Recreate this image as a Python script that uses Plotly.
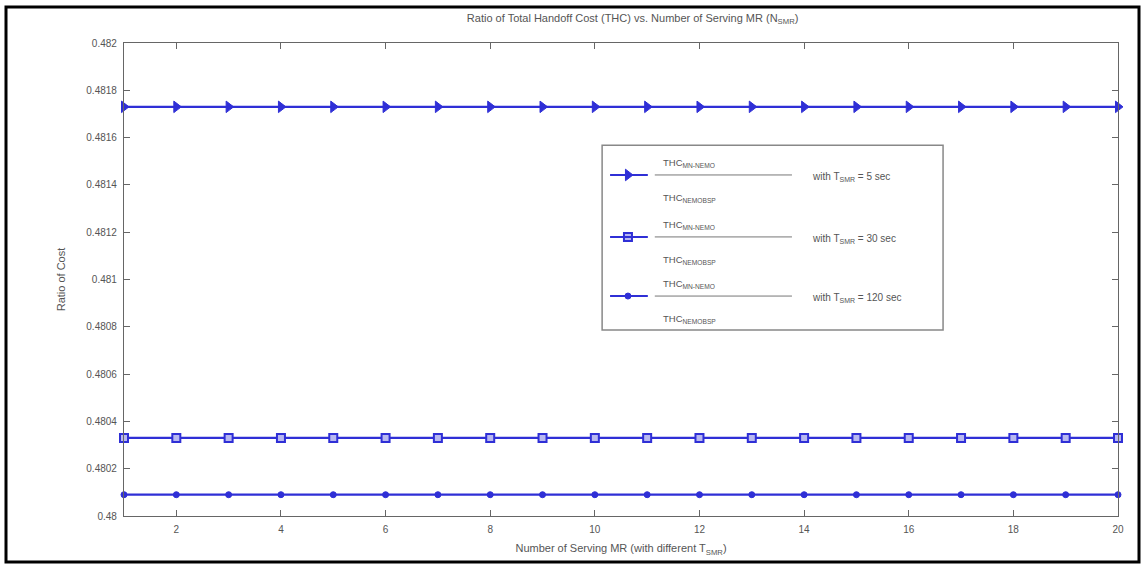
import plotly.graph_objects as go

# Number of serving MRs
n_smr = list(range(1, 21))

# Ratio THC(MN-NEMO) / THC(NEMO-BSP) for different T_SMR
ratio_t5 = [0.48173] * 20
ratio_t30 = [0.48033] * 20
ratio_t120 = [0.48009] * 20

y_ticks = [0.48, 0.4802, 0.4804, 0.4806, 0.4808, 0.481, 0.4812, 0.4814, 0.4816, 0.4818, 0.482]
y_tick_text = ["0.48", "0.4802", "0.4804", "0.4806", "0.4808", "0.481",
               "0.4812", "0.4814", "0.4816", "0.4818", "0.482"]
x_ticks = [2, 4, 6, 8, 10, 12, 14, 16, 18, 20]

series_labels = ["with T<sub>SMR</sub> = 5 sec", "with T<sub>SMR</sub> = 30 sec",
                 "with T<sub>SMR</sub> = 120 sec"]

BLUE = "#2f2fd6"
GREY = "#555555"
FONT = "Liberation Sans, Arial, sans-serif"

styles = [
    dict(symbol="triangle-right", size=10, color=BLUE, line=dict(color=BLUE, width=1)),
    dict(symbol="square", size=8, color="#b8b8f0", line=dict(color=BLUE, width=2)),
    dict(symbol="circle", size=6, color=BLUE, line=dict(color=BLUE, width=1)),
]

fig = go.Figure()
for ys, st in zip([ratio_t5, ratio_t30, ratio_t120], styles):
    fig.add_trace(go.Scatter(
        x=n_smr, y=ys, mode="lines+markers",
        line=dict(color=BLUE, width=2.2),
        marker=st, showlegend=False, cliponaxis=False,
    ))

# Hand-built legend box with fraction-style entries
L = dict(x0=0.481, x1=0.824, y0=0.393, y1=0.784)
row_y = [0.721, 0.590, 0.465]
shapes = [
    dict(type="rect", xref="paper", yref="paper", x0=L["x0"], x1=L["x1"],
         y0=L["y0"], y1=L["y1"], line=dict(color="#888888", width=1.5),
         fillcolor="white", layer="below"),
    # outer frame of the figure
    dict(type="rect", xref="paper", yref="paper",
         x0=(6 - 124) / 994, x1=(1139 - 124) / 994,
         y0=(516 - 562) / 473, y1=(516 - 7) / 473,
         line=dict(color="black", width=3)),
]
annotations = []
dy = 12 / 473
for ry, lab, st in zip(row_y, series_labels, styles):
    shapes.append(dict(type="line", xref="paper", yref="paper", x0=0.489, x1=0.527,
                       y0=ry, y1=ry, line=dict(color=BLUE, width=2)))
    shapes.append(dict(type="line", xref="paper", yref="paper", x0=0.534, x1=0.672,
                       y0=ry, y1=ry, line=dict(color="#777777", width=1)))
    fig.add_trace(go.Scatter(x=[0.507], y=[ry], xaxis="x2", yaxis="y2",
                             mode="markers", marker=st, showlegend=False,
                             hoverinfo="skip"))
    annotations.append(dict(xref="paper", yref="paper", x=0.54, y=ry + dy,
                            text="THC<sub>MN-NEMO</sub>", showarrow=False,
                            xanchor="left", yanchor="middle",
                            font=dict(size=9.5, color=GREY, family=FONT)))
    annotations.append(dict(xref="paper", yref="paper", x=0.54, y=ry - 1.9 * dy,
                            text="THC<sub>NEMOBSP</sub>", showarrow=False,
                            xanchor="left", yanchor="middle",
                            font=dict(size=9.5, color=GREY, family=FONT)))
    annotations.append(dict(xref="paper", yref="paper", x=0.69, y=ry - 0.004,
                            text=lab, showarrow=False,
                            xanchor="left", yanchor="middle",
                            font=dict(size=10, color=GREY, family=FONT)))

axis_common = dict(showline=True, linecolor="#666666", linewidth=1.2, mirror="ticks",
                   ticks="inside", ticklen=6, tickcolor="#666666",
                   showgrid=False, zeroline=False, ticklabelstandoff=4,
                   tickfont=dict(size=10, color=GREY, family=FONT))

fig.update_layout(
    width=1144, height=567,
    margin=dict(l=124, r=26, t=43, b=51),
    paper_bgcolor="white", plot_bgcolor="white",
    title=dict(text="Ratio of Total Handoff Cost (THC) vs. Number of Serving MR (N<sub>SMR</sub>)",
               x=0.553, xanchor="center", y=0.968, yanchor="middle",
               font=dict(size=11, color=GREY, family=FONT)),
    xaxis=dict(range=[1, 20], tickvals=x_ticks,
               title=dict(text="Number of Serving MR (with different T<sub>SMR</sub>)",
                          standoff=10, font=dict(size=11, color=GREY, family=FONT)),
               **axis_common),
    yaxis=dict(range=[0.48, 0.482], tickvals=y_ticks, ticktext=y_tick_text,
               title=dict(text="Ratio of Cost", standoff=18,
                          font=dict(size=11, color=GREY, family=FONT)),
               **axis_common),
    xaxis2=dict(range=[0, 1], overlaying="x", visible=False),
    yaxis2=dict(range=[0, 1], overlaying="y", visible=False),
    shapes=shapes, annotations=annotations,
)

fig.write_html("out.html")
